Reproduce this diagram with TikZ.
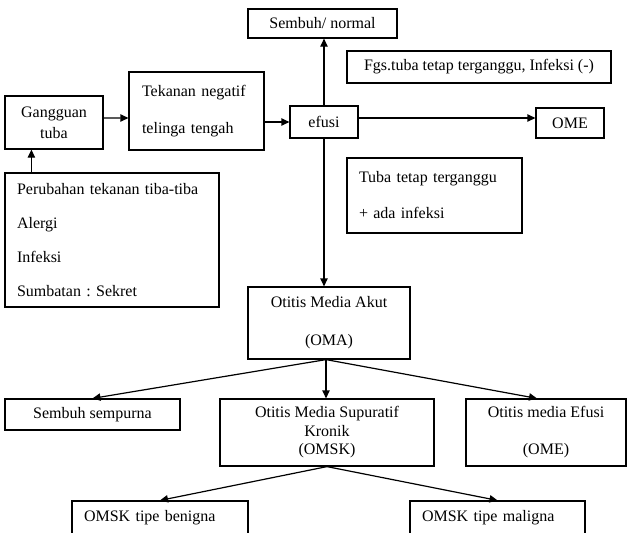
\documentclass[tikz,border=0pt]{standalone}
\usepackage{fontspec}
\setmainfont{Liberation Serif}
\usetikzlibrary{positioning}
\usetikzlibrary{arrows.meta}

\tikzset{
  box/.style={draw, line width=0.9pt, inner sep=0pt, align=center, font=\fontsize{12}{14}\selectfont},
  boxsize/.style 2 args={minimum width=#1*0.75pt, minimum height=#2*0.75pt},
  linegap/.style={font=\fontsize{12}{#1}\selectfont},
  arr/.style={-{Triangle[length=6pt,width=5.5pt]}, line width=0.9pt}
}

\begin{document}
\frenchspacing
\begin{tikzpicture}[x=0.75pt, y=-0.75pt]
    \useasboundingbox (0,0) rectangle (627,532);
    \clip (0,0) rectangle (627,532);

    \node[box, boxsize={98}{53}, linegap=15.75] (gangguan) at (54,122.5) {Gangguan\\tuba};
    \node[box, boxsize={135}{78}, linegap=27.75, align=left, inner xsep=9.75pt, text width=81.75pt] (tekanan) at (196.5,111) {Tekanan negatif\\telinga tengah};
    \node[box, boxsize={68}{32}] (efusi) at (324,122) {efusi};
    \node[box, boxsize={149}{29}] (sembuh) at (322.5,23.5) {Sembuh/ normal};
    \node[box, boxsize={264}{32}] (fgs) at (479,67) {Fgs.tuba tetap terganggu, Infeksi (-)};
    \node[box, boxsize={68}{30}] (ome) at (570,123) {OME};
    \node[box, boxsize={175}{75}, linegap=27, align=left, inner xsep=9pt, text width=113.25pt] (tubaTetap) at (434.5,195.5) {Tuba tetap terganggu\\+ ada infeksi};
    \node[box, boxsize={214}{134}, linegap=25.5, align=left, inner xsep=9pt, text width=142.5pt] (penyebab) at (112,240) {Perubahan tekanan tiba-tiba\\Alergi\\Infeksi\\Sumbatan : Sekret};
    \node[box, boxsize={162}{72}, linegap=28.5] (oma) at (329,323) {Otitis Media Akut\\(OMA)};
    \node[box, boxsize={175}{31}] (sempurna) at (92.5,414.5) {Sembuh sempurna};
    \node[box, boxsize={214}{67}, linegap=13.9] (omsk) at (327,432.5) {Otitis Media Supuratif\\Kronik\\(OMSK)};
    \node[box, boxsize={160}{67}, linegap=27.75] (omeEfusi) at (546,432.5) {Otitis media Efusi\\(OME)};
    \node[box, boxsize={176}{33}, align=left, inner xsep=9pt, text width=114pt] (benigna) at (160,517.5) {OMSK tipe benigna};
    \node[box, boxsize={175}{33}, align=left, inner xsep=9pt, text width=113.25pt] (maligna) at (497.5,517.5) {OMSK tipe maligna};

    \draw[arr] ([xshift=20.25pt]penyebab.north west) -- ([xshift=20.25pt]gangguan.south west);
    \draw[arr] ([yshift=3.4pt]gangguan.east) -- ([yshift=-5.25pt]tekanan.west);
    \draw[arr] (tekanan.east |- efusi.west) -- (efusi.west);
    \draw[arr] (efusi.north) -- (sembuh.south -| efusi.north);
    \draw[arr] ([yshift=3pt]efusi.east) -- ([yshift=3pt]ome.west |- efusi.east);
    \draw[arr] (efusi.south) -- (oma.north -| efusi.south);
    \draw[arr] ([xshift=-2.25pt]oma.south) -- (sempurna.north);
    \draw[arr] ([xshift=-2.25pt]oma.south) -- ([xshift=-0.75pt]omsk.north);
    \draw[arr] ([xshift=-2.25pt]oma.south) -- ([xshift=-6.75pt]omeEfusi.north);
    \draw[arr] (omsk.south) -- (benigna.north);
    \draw[arr] (omsk.south) -- (maligna.north);
  \end{tikzpicture}
\end{document}
